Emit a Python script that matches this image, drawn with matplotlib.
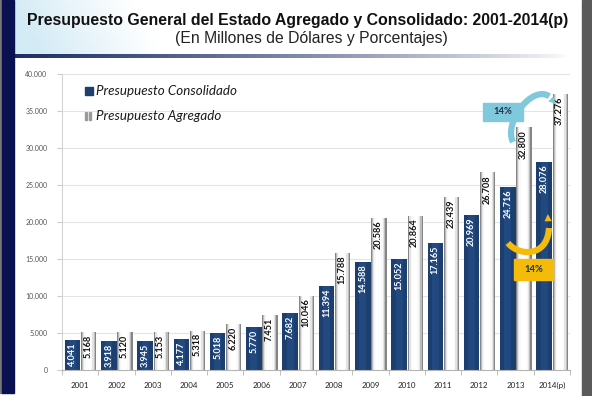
import matplotlib
matplotlib.use("Agg")
import matplotlib.pyplot as plt
import numpy as np
from matplotlib.patches import Rectangle, FancyArrowPatch

# ---------------- data ----------------
years = ["2001", "2002", "2003", "2004", "2005", "2006", "2007",
         "2008", "2009", "2010", "2011", "2012", "2013", "2014(p)"]
consolidado = [4041, 3918, 3945, 4177, 5018, 5770, 7682,
               11394, 14588, 15052, 17165, 20969, 24716, 28076]
agregado = [5168, 5120, 5153, 5318, 6220, 7451, 10046,
            15788, 20586, 20864, 23439, 26708, 32800, 37276]
tick_values = [0, 5000, 10000, 15000, 20000, 25000, 30000, 35000, 40000]
tick_labels = ["0", "5.000", "10.000", "15.000", "20.000",
               "25.000", "30.000", "35.000", "40.000"]
series_names = ["Presupuesto Consolidado", "Presupuesto Agregado"]
growth_labels = ["14%", "14%"]
title = "Presupuesto General del Estado Agregado y Consolidado: 2001-2014(p)"
subtitle = "(En Millones de Dólares y Porcentajes)"


def fmt(v):
    return f"{v:,}".replace(",", ".")


W, H = 592, 396
NAVY = "#1c3f70"
fig = plt.figure(figsize=(W / 100, H / 100), dpi=100)
fig.patch.set_facecolor("white")

# ---------------- background decorations (pixel coords) ----------------
bg = fig.add_axes([0, 0, 1, 1], zorder=0)
bg.axis("off")

# light blue header wash
hh, ww = 56, 220
yy, xx = np.mgrid[0:hh, 0:ww]
alpha = np.clip(1.0 - (xx + (hh - yy) * 0.6 - 30) / 120.0, 0, 1) * 0.85
img = np.zeros((hh, ww, 4))
img[..., 0], img[..., 1], img[..., 2] = 0.80, 0.91, 0.96
img[..., 3] = alpha
bg.imshow(img, extent=(14, 14 + ww, hh, 0), aspect="auto", zorder=0)

# gradient rule under the header
line = np.zeros((1, 300, 4))
line[..., 0], line[..., 1], line[..., 2] = 0.11, 0.18, 0.40
line[..., 3] = np.linspace(1, 0, 300) ** 0.8
bg.imshow(line, extent=(14, 570, 58, 54), aspect="auto", zorder=1)

# side bars
bg.add_patch(Rectangle((0, 0), 1.5, 393, color="#777777", zorder=2))
bg.add_patch(Rectangle((1.5, 0), 12.5, 393, color="#0b1150", zorder=2))
bg.add_patch(Rectangle((582, 0), 10, H, color="#5a5a5a", zorder=2))
bg.set_xlim(0, W)
bg.set_ylim(H, 0)

# titles
fig.text(298 / W, 1 - 20 / H, title, ha="center", va="center",
         fontsize=11.45, fontweight="bold", family="Liberation Sans", color="#111111")
fig.text(311 / W, 1 - 38 / H, subtitle, ha="center", va="center",
         fontsize=11.3, family="Liberation Sans", color="#222222")

# ---------------- main chart ----------------
ax = fig.add_axes([62 / W, 1 - 370 / H, (570 - 62) / W, (370 - 74) / H], zorder=1)
ax.set_facecolor("none")
x = np.arange(len(years))
off_d, off_l = -0.21, 0.235
wd, wl = 0.43, 0.42

ax.set_xlim(-0.5, len(years) - 0.5)
ax.set_ylim(0, 40000)
ax.set_yticks(tick_values)
ax.set_yticklabels(tick_labels, fontsize=5, family="Lato", color="#555555")
ax.yaxis.grid(True, color="#e4e4e4", lw=0.8)
ax.set_axisbelow(True)

# dark bars with subtle centre highlight
ax.bar(x + off_d, consolidado, wd, color=NAVY, zorder=2)
ax.bar(x + off_d, consolidado, wd * 0.45, color="#21497f", zorder=2.1)

# light bars as a cylinder-like shading
shades = [(1.0, 0.0, "#858585"), (0.86, -0.01, "#bcbcbc"), (0.72, -0.02, "#e4e4e4"),
          (0.55, -0.03, "#f9f9f9"), (0.35, -0.03, "#ffffff")]
for k, (frac, sh, col) in enumerate(shades):
    ax.bar(x + off_l + sh * wl, agregado, wl * frac, color=col, zorder=2 + 0.01 * k)

# value labels
pad = 350
for i in range(len(years)):
    ax.text(x[i] + off_d, consolidado[i] - pad, fmt(consolidado[i]), rotation=90,
            ha="center", va="top", fontsize=6.6, fontweight="bold",
            family="Lato", color="white", zorder=5)
    ax.text(x[i] + off_l - 0.02, agregado[i] - pad, fmt(agregado[i]), rotation=90,
            ha="center", va="top", fontsize=6.6, fontweight="bold",
            family="Lato", color="#111111", zorder=5)

# axes styling
for s in ["top", "right"]:
    ax.spines[s].set_visible(False)
ax.spines["left"].set_color("#d4d4d4")
ax.spines["bottom"].set_color("#b5b5b5")
ax.tick_params(axis="y", length=3.5, color="#cccccc", pad=7)
ax.set_xticks(x)
ax.set_xticklabels(years, fontsize=5.8, family="Lato", color="#222222")
ax.set_xticks(np.arange(-0.5, len(years)), minor=True)
ax.tick_params(axis="x", which="major", length=0, pad=8.5)
ax.tick_params(axis="x", which="minor", length=3.5, color="#b5b5b5")

# legend (hand-made, like the original)
bg.add_patch(Rectangle((85, 87), 8, 7.5, color=NAVY, zorder=3))
bg.add_patch(Rectangle((85, 112), 2, 7.5, color="#9a9a9a", zorder=3))
bg.add_patch(Rectangle((89, 112), 2, 7.5, color="#9a9a9a", zorder=3))
fig.text(96 / W, 1 - 91 / H, series_names[0], ha="left", va="center",
         fontsize=9.6, style="italic", family="Lato", color="#1a1a1a")
fig.text(96 / W, 1 - 116 / H, series_names[1], ha="left", va="center",
         fontsize=9.6, style="italic", family="Lato", color="#1a1a1a")

# growth annotations (curved arrows + boxes), placed relative to the last two bars
i13, i14 = len(years) - 2, len(years) - 1
blue = "#80c8dc"
gold = "#f4bb0a"
xa, xb = x[i13], x[i14]
ya, yb = agregado[i13], agregado[i14]
ca, cb = consolidado[i13], consolidado[i14]


def curved_arrow(ctrl, color, lw=4.5):
    p = np.array(ctrl, dtype=float)
    t = np.linspace(0, 0.88, 80)[:, None]
    pts = ((1 - t) ** 3 * p[0] + 3 * (1 - t) ** 2 * t * p[1]
           + 3 * (1 - t) * t ** 2 * p[2] + t ** 3 * p[3])
    ax.plot(pts[:, 0], pts[:, 1], color=color, lw=lw, solid_capstyle="butt",
            zorder=6, clip_on=False)
    t2 = np.array([[0.84], [1.0]])
    hp = ((1 - t2) ** 3 * p[0] + 3 * (1 - t2) ** 2 * t2 * p[1]
          + 3 * (1 - t2) * t2 ** 2 * p[2] + t2 ** 3 * p[3])
    ax.add_patch(FancyArrowPatch(tuple(hp[0]), tuple(hp[1]), arrowstyle="-|>",
                                 mutation_scale=13, lw=0, color=color, zorder=6,
                                 shrinkA=0, shrinkB=0, clip_on=False))


curved_arrow([(xa - 0.07, ya - 1990), (xa - 0.37, ya + 980),
              (xa + 0.67, ya + 7200), (xb + 0.11, yb - 1330)], blue)
ax.add_patch(Rectangle((xa - 0.347 - 0.551, ya + 2065 - 1216), 1.102, 2432,
                       color=blue, zorder=7))
ax.text(xa - 0.347, ya + 2065, growth_labels[1], ha="center", va="center",
        fontsize=6.8, fontweight="bold", family="Lato", color="#1f3050", zorder=8)

curved_arrow([(xa - 0.21, ca - 7550), (xa + 0.12, ca - 9580),
              (xa + 1.11, ca - 9580), (xa + 0.89, ca - 3640)], gold)
ax.add_patch(Rectangle((xa + 0.494 - 0.537, cb * 0.4837 - 1420), 1.075, 2840,
                       color=gold, zorder=7))
ax.text(xa + 0.494, cb * 0.4837, growth_labels[0], ha="center", va="center",
        fontsize=6.8, fontweight="bold", family="Lato", color="#1f3050", zorder=8)

fig.savefig("out.png", dpi=100)
